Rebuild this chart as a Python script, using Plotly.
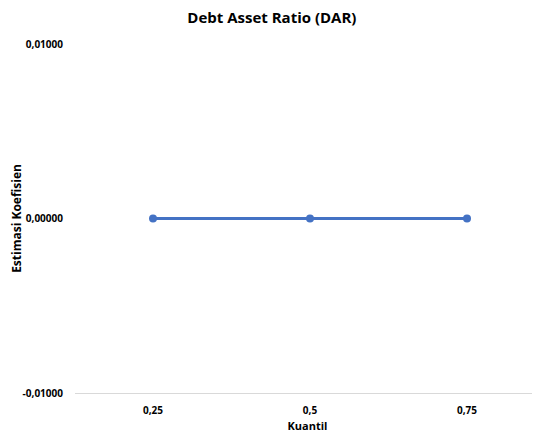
import plotly.graph_objects as go

quantiles = ["0,25", "0,5", "0,75"]
coefficients = [0.0, 0.0, 0.0]
y_tick_values = [-0.01, 0.0, 0.01]
y_tick_labels = ["-0,01000", "0,00000", "0,01000"]

font_family = "Open Sans, Liberation Sans, Arial"

fig = go.Figure()
fig.add_trace(go.Scatter(
    x=quantiles, y=coefficients, mode="lines+markers",
    line=dict(color="#4472C4", width=3),
    marker=dict(color="#4472C4", size=8),
    showlegend=False,
))

fig.update_layout(
    width=532, height=431,
    margin=dict(l=67, r=0, t=36, b=46),
    paper_bgcolor="white", plot_bgcolor="white",
    font=dict(family=font_family, color="#000000"),
    title=dict(text="<b>Debt Asset Ratio (DAR)</b>", x=0.496, xanchor="center",
               y=0.977, yanchor="middle", font=dict(size=15, color="#000000")),
)
fig.update_xaxes(
    type="category", range=[-0.497, 2.465],
    showgrid=False, zeroline=False,
    showline=True, linecolor="#d9d9d9", linewidth=1,
    ticks="", tickfont=dict(size=10, family=font_family, weight="bold"),
    ticklabelstandoff=8,
    title=dict(text="<b>Kuantil</b>", font=dict(size=11), standoff=6),
)
fig.update_yaxes(
    range=[-0.01, 0.01],
    tickvals=y_tick_values, ticktext=y_tick_labels,
    showgrid=False, zeroline=False, showline=False,
    ticks="", tickfont=dict(size=10, family=font_family, weight="bold"),
    ticklabelstandoff=11,
    title=dict(text="<b>Estimasi Koefisien</b>", font=dict(size=12), standoff=7),
)

fig.write_html("out.html")
